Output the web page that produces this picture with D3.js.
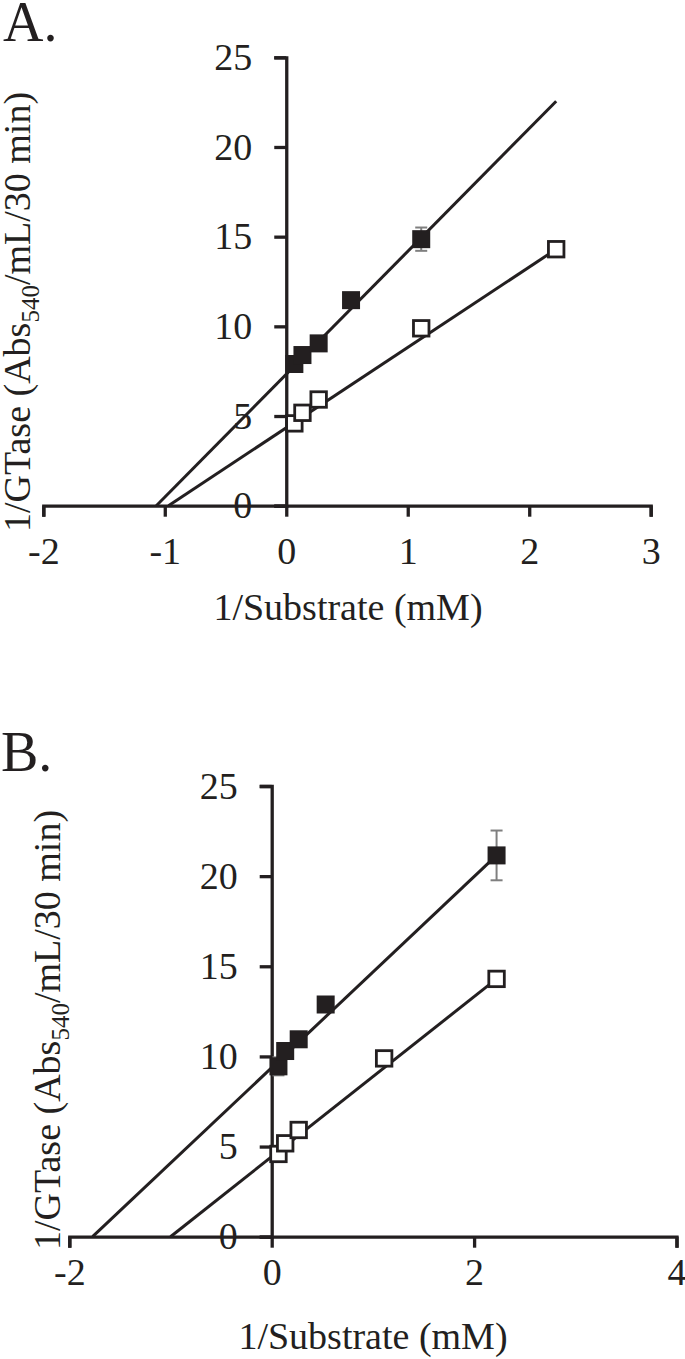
<!DOCTYPE html>
<html><head><meta charset="utf-8">
<script src="https://cdn.jsdelivr.net/npm/d3@7/dist/d3.min.js"></script>
<style>
html,body{margin:0;padding:0;background:#fff;}
svg text{font-family:"Liberation Serif","Times New Roman",serif;fill:#231f20;}
</style></head>
<body><svg id="c" width="685" height="1359"></svg>
<script>
// ---- Data ----
const xTicksA = [-2, -1, 0, 1, 2, 3];
const xTicksB = [-2, 0, 2, 4];
const yTicks = [0, 5, 10, 15, 20, 25];

// Panel A
const aFilledX = [0.0667, 0.1333, 0.2667, 0.5333, 1.111];
const aFilledY = [7.9, 8.4, 9.05, 11.46, 14.86];
const aFilledErr = [0.2, 0.2, 0.2, 0.2, 0.65];
const aOpenX = [0.0667, 0.1333, 0.2667, 1.111, 2.222];
const aOpenY = [4.59, 5.18, 5.92, 9.89, 14.3];
const aOpenErr = [0.1, 0.1, 0.1, 0.1, 0.1];
const aFilledFit = [[-1.07, 0], [2.222, 22.55]];
const aOpenFit = [[-0.97, 0], [2.222, 14.3]];

// Panel B
const bFilledX = [0.0667, 0.1333, 0.2667, 0.5333, 2.222];
const bFilledY = [9.45, 10.3, 10.95, 12.88, 21.15];
const bFilledErr = [0.5, 0.2, 0.2, 0.2, 1.38];
const bOpenX = [0.0667, 0.1333, 0.2667, 1.111, 2.222];
const bOpenY = [4.59, 5.18, 5.92, 9.89, 14.3];
const bOpenErr = [0.1, 0.1, 0.1, 0.1, 0.1];
const bFilledFit = [[-1.77, 0], [2.222, 21.15]];
const bOpenFit = [[-1.0, 0], [2.222, 14.3]];

const xLabel = "1/Substrate (mM)";

// ---- Drawing ----
const svg = d3.select("#c");
const FS = 38;

function panel(cfg) {
  const x = d3.scaleLinear().domain(cfg.xDom).range(cfg.xRange);
  const y = d3.scaleLinear().domain([0, 25]).range(cfg.yRange);
  const g = svg.append("g");

  // title
  g.append("text").attr("x", cfg.titlePos[0]).attr("y", cfg.titlePos[1])
    .attr("font-size", 56).text(cfg.title);

  // fit lines
  const line = d3.line().x(d => x(d[0])).y(d => y(d[1]));
  [cfg.filledFit, cfg.openFit].forEach(f => {
    g.append("path").attr("d", line(f)).attr("fill", "none")
      .attr("stroke", "#231f20").attr("stroke-width", 3);
  });

  // x axis
  const xa = g.append("g").attr("transform", `translate(0,${y(0)})`)
    .call(d3.axisBottom(x).tickValues(cfg.xTicks).tickSize(11).tickSizeOuter(11)
      .tickPadding(cfg.xPad).tickFormat(d3.format("d")));
  // y axis
  const ya = g.append("g").attr("transform", `translate(${x(0)},0)`)
    .call(d3.axisLeft(y).tickValues(yTicks).tickSize(12).tickSizeOuter(12)
      .tickPadding(cfg.yPad).tickFormat(d3.format("d")));
  [xa, ya].forEach(a => {
    a.selectAll("path,line").attr("stroke", "#231f20").attr("stroke-width", 3.3);
    a.selectAll("text").attr("font-size", FS).attr("fill", "#231f20")
      .style("font-family", '"Liberation Serif",serif');
  });
  xa.selectAll("text").text(d => d < 0 ? "-" + Math.abs(d) : d);

  // error bars
  const eb = (xs, ys, es) => xs.forEach((xv, i) => {
    const cx = x(xv), y1 = y(ys[i] + es[i]), y2 = y(ys[i] - es[i]);
    const e = g.append("g").attr("stroke", "#7f7f7f").attr("stroke-width", 2);
    e.append("line").attr("x1", cx).attr("x2", cx).attr("y1", y1).attr("y2", y2);
    e.append("line").attr("x1", cx - 6).attr("x2", cx + 6).attr("y1", y1).attr("y2", y1);
    e.append("line").attr("x1", cx - 6).attr("x2", cx + 6).attr("y1", y2).attr("y2", y2);
  });
  eb(cfg.openX, cfg.openY, cfg.openErr);
  eb(cfg.filledX, cfg.filledY, cfg.filledErr);

  // open squares
  const so = 15.5;
  cfg.openX.forEach((xv, i) => {
    g.append("rect").attr("x", x(xv) - so / 2).attr("y", y(cfg.openY[i]) - so / 2)
      .attr("width", so).attr("height", so).attr("fill", "#fff")
      .attr("stroke", "#231f20").attr("stroke-width", 2.8);
  });
  // filled squares
  const sf = 18;
  cfg.filledX.forEach((xv, i) => {
    g.append("rect").attr("x", x(xv) - sf / 2).attr("y", y(cfg.filledY[i]) - sf / 2)
      .attr("width", sf).attr("height", sf).attr("fill", "#231f20");
  });

  // axis labels
  g.append("text").attr("x", cfg.xLabelPos[0]).attr("y", cfg.xLabelPos[1])
    .attr("text-anchor", "middle").attr("font-size", FS).text(xLabel);
  const yl = g.append("text")
    .attr("transform", `translate(${cfg.yLabelPos[0]},${cfg.yLabelPos[1]}) rotate(-90)`)
    .attr("text-anchor", "middle").attr("font-size", FS);
  yl.append("tspan").text("1/GTase (Abs");
  yl.append("tspan").attr("font-size", 25).attr("dy", 9).text("540");
  yl.append("tspan").attr("dy", -9).text("/mL/30 min)");
}

panel({
  title: "A.", titlePos: [3, 41],
  xDom: [-2, 3], xRange: [43.3, 650.7], yRange: [505.7, 57.3],
  xTicks: xTicksA, xPad: 20, yPad: 22,
  filledX: aFilledX, filledY: aFilledY, filledErr: aFilledErr,
  openX: aOpenX, openY: aOpenY, openErr: aOpenErr,
  filledFit: aFilledFit, openFit: aOpenFit,
  xLabelPos: [348, 620], yLabelPos: [30, 312]
});
panel({
  title: "B.", titlePos: [1, 771],
  xDom: [-2, 4], xRange: [69.3, 676.5], yRange: [1236.7, 786],
  xTicks: xTicksB, xPad: 10, yPad: 22,
  filledX: bFilledX, filledY: bFilledY, filledErr: bFilledErr,
  openX: bOpenX, openY: bOpenY, openErr: bOpenErr,
  filledFit: bFilledFit, openFit: bOpenFit,
  xLabelPos: [373, 1349], yLabelPos: [60, 1030]
});
</script></body></html>
